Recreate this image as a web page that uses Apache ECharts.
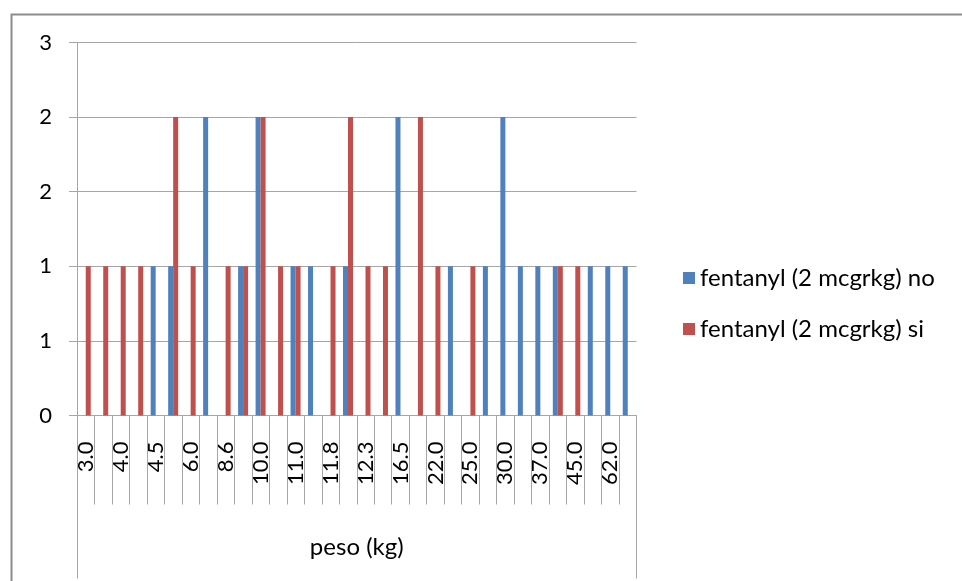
<!DOCTYPE html>
<html>
<head>
<meta charset="utf-8">
<script src="https://cdn.jsdelivr.net/npm/echarts@6/dist/echarts.min.js"></script>
<style>
html,body{margin:0;padding:0;background:#fff;}
#chart{width:962px;height:581px;}
</style>
</head>
<body>
<div id="chart"></div>
<script>
// Categories: peso (kg). Odd-index labels are hidden in the reference (estimated).
const categories = ['3.0','3.5','4.0','4.2','4.5','5.0','6.0','7.0','8.6','9.0','10.0','10.5','11.0','11.5','11.8','12.0',
  '12.3','14.0','16.5','20.0','22.0','24.0','25.0','28.0','30.0','35.0','37.0','40.0','45.0','50.0','62.0','70.0'];
const seriesNoName = 'fentanyl (2 mcgrkg) no';
const seriesSiName = 'fentanyl (2 mcgrkg) si';
const valuesNo = [0,0,0,0,1,1,0,2,0,1,2,0,1,1,0,1,0,0,2,0,0,1,0,1,2,1,1,1,0,1,1,1];
const valuesSi = [1,1,1,1,0,2,1,0,1,1,2,1,1,0,1,2,1,1,0,2,1,0,1,0,0,0,0,1,1,0,0,0];
const outerCategory = ['peso (kg)'];
const yMin = 0, yMax = 2.5, yStep = 0.5;

const FONT = 'Lato';
const GRAY = '#a6a6a6';
const chart = echarts.init(document.getElementById('chart'));
chart.setOption({
  animation: false,
  textStyle: { fontFamily: FONT },
  graphic: [{
    type: 'rect', left: 9, top: 12,
    shape: { width: 1000, height: 600 },
    style: { fill: 'none', stroke: '#8c8c8c', lineWidth: 2 },
    silent: true
  }],
  legend: {
    orient: 'vertical',
    left: 678, top: 261,
    itemWidth: 12, itemHeight: 12, itemGap: 27,
    icon: 'rect',
    textStyle: { fontFamily: FONT, fontSize: 24, color: '#000' },
    data: [seriesNoName, seriesSiName]
  },
  grid: { left: 77, top: 42.5, right: 325.5, bottom: 165.5, containLabel: false },
  xAxis: [{
    type: 'category',
    data: categories,
    position: 'bottom',
    axisLine: { show: true, lineStyle: { color: GRAY } },
    axisTick: { show: true, interval: 0, length: 89, lineStyle: { color: GRAY } },
    axisLabel: { interval: 1, rotate: 90, margin: 26, fontFamily: FONT, fontSize: 22, color: '#000' },
    splitLine: { show: false }
  }, {
    type: 'category',
    data: outerCategory,
    position: 'bottom',
    gridIndex: 0,
    axisLine: { show: false },
    axisTick: { show: true, interval: 0, length: 163, lineStyle: { color: GRAY } },
    axisLabel: { interval: 0, margin: 120, fontFamily: FONT, fontSize: 24, color: '#000' },
    splitLine: { show: false }
  }],
  yAxis: {
    type: 'value',
    min: yMin, max: yMax, interval: yStep,
    axisLine: { show: true, lineStyle: { color: GRAY } },
    axisTick: { show: true, length: 8, lineStyle: { color: GRAY } },
    axisLabel: { margin: 25, fontFamily: FONT, fontSize: 22, color: '#000',
      formatter: v => String(Math.round(v)) },
    splitLine: { show: true, lineStyle: { color: GRAY } }
  },
  series: [{
    name: seriesNoName, type: 'bar', xAxisIndex: 0,
    data: valuesNo, barWidth: 5, barGap: 0,
    itemStyle: { color: '#4F81BD' }
  }, {
    name: seriesSiName, type: 'bar', xAxisIndex: 0,
    data: valuesSi, barWidth: 5, barGap: 0,
    itemStyle: { color: '#C0504D' }
  }]
});
</script>
</body>
</html>
